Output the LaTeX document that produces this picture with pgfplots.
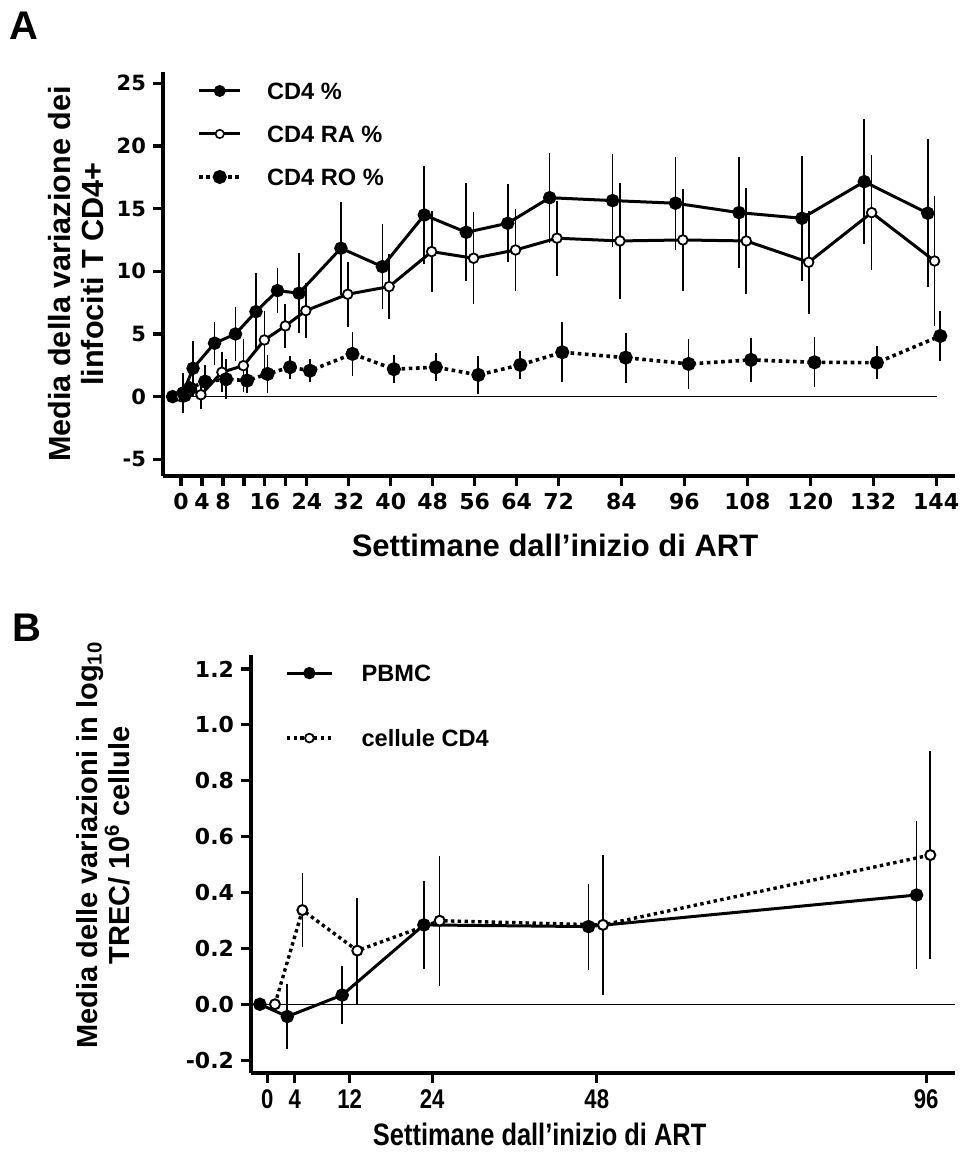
\documentclass[border=0pt]{standalone}
\usepackage{pgfplots}
\pgfplotsset{compat=1.18}
\usepackage{fontspec}
\setmainfont{Liberation Sans}
\newfontfamily\dvs{DejaVu Sans}
\newfontfamily\narrow[FakeStretch=0.82]{Liberation Sans}
\pgfplotsset{
  base/.style={
    scale only axis, clip=false,
    axis x line*=bottom, axis y line*=left,
    axis line style={line width=1.7pt},
    tick align=outside, major tick length=5pt,
    tick style={line width=1.6pt,black},
    /pgf/number format/assume math mode=true,
    legend cell align=left,
  },
  ebar/.style={error bars/y dir=both, error bars/y explicit, error bars/error mark=none,
    error bars/error bar style={line width=0.85pt,solid}},
}
\begin{document}
\begin{tikzpicture}
\useasboundingbox (0pt,0pt) rectangle (482pt,579.5pt);
\node[font=\bfseries\fontsize{20}{20}\selectfont] at (12pt,566.5pt) {A};
\node[font=\bfseries\fontsize{20}{20}\selectfont] at (13.5pt,265.5pt) {B};
% ---------------- Panel A ----------------
\begin{axis}[base,
  at={(81.5pt,341.5pt)}, anchor=south west,
  width=396pt, height=202pt,
  xmin=-3.43, xmax=147.6, ymin=-6.33, ymax=25.9,
  xtick={0,4,8,12,16,20,24,32,40,48,56,64,72,84,96,108,120,132,144},
  xticklabels={0,4,8,,16,,24,32,40,48,56,64,72,84,96,108,120,132,144},
  ytick={-5,0,5,10,15,20,25},
  xticklabel style={font=\dvs\bfseries\fontsize{11}{11}\selectfont},
  yticklabel style={font=\dvs\bfseries\fontsize{10.5}{10.5}\selectfont},
  xlabel={Settimane dall’inizio di ART},
  xlabel style={at={(axis description cs:0.495,-0.171)}, anchor=center, font=\bfseries\fontsize{15.5}{18}\selectfont},
  ylabel={Media della variazione dei\\linfociti T CD4+},
  ylabel style={at={(axis description cs:-0.11,0.5)}, anchor=center, align=center, font=\bfseries\fontsize{15.3}{16.5}\selectfont},
  legend style={draw=none, fill=none, at={(axis description cs:0.043,0.975)}, anchor=north west,
    inner sep=0pt, row sep=13pt, font=\bfseries\fontsize{11.8}{11.8}\selectfont,
    nodes={inner sep=0pt, text height=8.5pt, text depth=0pt},
    /tikz/every odd column/.append style={column sep=12.5pt}},
]
\addplot[forget plot, line width=0.6pt] coordinates {(-2.7,0) (144.2,0)};
\addplot[black, line width=1.5pt, mark=*, mark size=2.6pt, mark options={solid,fill=black}, ebar,
  legend image code/.code={\draw[solid,line width=1.5pt] (0pt,0pt) -- (20.5pt,0pt); \fill (10.25pt,0pt) circle (2.2pt);}]
coordinates {
(-1.6,0) +- (0,0)
(0.4,0.3) +- (0,1.6)
(2.3,2.26) +- (0,2.2)
(6.4,4.26) +- (0,1.7)
(10.4,5.0) +- (0,2.17)
(14.3,6.78) +- (0,3.1)
(18.4,8.46) +- (0,1.8)
(22.5,8.25) +- (0,3.2)
(30.5,11.84) +- (0,3.7)
(38.4,10.37) +- (0,3.4)
(46.4,14.49) +- (0,3.9)
(54.4,13.11) +- (0,3.9)
(62.3,13.83) +- (0,3.1)
(70.3,15.87) +- (0,3.6)
(82.3,15.64) +- (0,3.7)
(94.3,15.43) +- (0,3.7)
(106.4,14.68) +- (0,4.4)
(118.4,14.23) +- (0,5.0)
(130.3,17.15) +- (0,5.0)
(142.4,14.63) +- (0,5.9)
};
\addlegendentry{CD4 \%}
\addplot[black, line width=1.5pt, mark=*, mark size=2.4pt, mark options={solid,fill=white,line width=0.9pt}, ebar,
  legend image code/.code={\draw[solid,line width=1.5pt] (0pt,0pt) -- (20.5pt,0pt); \draw[solid,line width=0.8pt,fill=white] (10.25pt,0pt) circle (2.1pt);}]
coordinates {
(0.0,0.0) +- (0,0)
(2.0,0.6) +- (0,0.6)
(3.8,0.15) +- (0,1.1)
(7.8,1.95) +- (0,1.6)
(11.9,2.47) +- (0,2.1)
(15.9,4.52) +- (0,2.3)
(19.9,5.64) +- (0,1.75)
(23.8,6.86) +- (0,2.2)
(31.8,8.17) +- (0,2.6)
(39.7,8.78) +- (0,2.6)
(47.8,11.57) +- (0,3.25)
(55.8,11.04) +- (0,3.65)
(63.8,11.7) +- (0,3.25)
(71.7,12.64) +- (0,3.0)
(83.7,12.42) +- (0,4.6)
(95.7,12.5) +- (0,4.1)
(107.8,12.42) +- (0,4.2)
(119.7,10.72) +- (0,4.1)
(131.7,14.68) +- (0,4.6)
(143.7,10.82) +- (0,5.2)
};
\addlegendentry{CD4 RA \%}
\addplot[black, line width=1.8pt, dash pattern=on 1.8pt off 1.8pt, mark=*, mark size=2.6pt, mark options={solid,fill=black}, ebar,
  legend image code/.code={\draw[line width=1.8pt, dash pattern=on 1.8pt off 1.8pt] (0pt,0pt) -- (20.5pt,0pt); \fill[solid] (10.25pt,0pt) circle (2.6pt);}]
coordinates {
(0.7,0.1) +- (0,0)
(1.7,0.67) +- (0,0.4)
(4.6,1.2) +- (0,1.3)
(8.6,1.39) +- (0,1.6)
(12.6,1.28) +- (0,0.95)
(16.5,1.81) +- (0,1.55)
(20.8,2.35) +- (0,0.93)
(24.6,2.07) +- (0,0.93)
(32.7,3.41) +- (0,1.75)
(40.6,2.19) +- (0,1.13)
(48.6,2.35) +- (0,1.13)
(56.7,1.73) +- (0,1.55)
(64.7,2.53) +- (0,1.13)
(72.7,3.54) +- (0,2.4)
(84.8,3.11) +- (0,2.0)
(96.8,2.61) +- (0,2.0)
(108.7,2.93) +- (0,1.77)
(120.8,2.74) +- (0,2.0)
(132.7,2.71) +- (0,1.34)
(144.8,4.84) +- (0,1.97)
};
\addlegendentry{CD4 RO \%}
\end{axis}
% ---------------- Panel B ----------------
\begin{axis}[base,
  at={(125.5pt,43pt)}, anchor=south west,
  width=352pt, height=209pt,
  xmin=-2.39, xmax=100.2, ymin=-0.246, ymax=1.25,
  xtick={0,4,12,24,48,96},
  ytick={-0.2,0,0.2,0.4,0.6,0.8,1.0,1.2},
  xticklabel style={font=\narrow\bfseries\fontsize{13.5}{13.5}\selectfont},
  yticklabel style={/pgf/number format/fixed, /pgf/number format/fixed zerofill, /pgf/number format/precision=1,
    font=\dvs\bfseries\fontsize{11}{11}\selectfont},
  xlabel={Settimane dall’inizio di ART},
  xlabel style={at={(axis description cs:0.41,-0.148)}, anchor=center, font=\narrow\bfseries\fontsize{15.5}{18}\selectfont},
  ylabel={Media delle variazioni in log\textsubscript{10}\\TREC/ 10\textsuperscript{6} cellule},
  ylabel style={at={(axis description cs:-0.21,0.545)}, anchor=center, align=center, font=\bfseries\fontsize{14.5}{16}\selectfont},
  legend style={draw=none, fill=none, at={(axis description cs:0.048,0.978)}, anchor=north west,
    inner sep=0pt, row sep=24pt, font=\bfseries\fontsize{11.8}{11.8}\selectfont,
    nodes={inner sep=0pt, text height=8.5pt, text depth=0pt},
    /tikz/every odd column/.append style={column sep=14pt}},
]
\addplot[forget plot, line width=0.6pt] coordinates {(-2.0,0) (100.2,0)};
\addplot[black, line width=1.5pt, mark=*, mark size=2.6pt, mark options={solid,fill=black}, ebar,
  legend image code/.code={\draw[solid,line width=1.5pt] (0pt,0pt) -- (22.5pt,0pt); \fill (11.25pt,0pt) circle (2.3pt);}]
coordinates {
(-1.1,0) +- (0,0)
(2.9,-0.044) +- (0,0.117)
(10.9,0.033) +- (0,0.104)
(22.8,0.284) +- (0,0.157)
(46.8,0.278) +- (0,0.154)
(94.6,0.391) +- (0,0.264)
};
\addlegendentry{PBMC}
\addplot[black, line width=1.7pt, dash pattern=on 1.7pt off 1.7pt, mark=*, mark size=2.5pt, mark options={solid,fill=white,line width=1pt}, ebar,
  legend image code/.code={\draw[line width=1.7pt, dash pattern=on 1.7pt off 1.7pt] (0pt,0pt) -- (22.5pt,0pt); \draw[solid,line width=0.9pt,fill=white] (11.25pt,0pt) circle (2.2pt);}]
coordinates {
(1.1,0) +- (0,0)
(5.1,0.337) +- (0,0.133)
(13.1,0.192) +- (0,0.19)
(25.1,0.299) +- (0,0.232)
(48.9,0.284) +- (0,0.25)
(96.6,0.534) +- (0,0.373)
};
\addlegendentry{cellule CD4}
\end{axis}
\end{tikzpicture}
\end{document}
